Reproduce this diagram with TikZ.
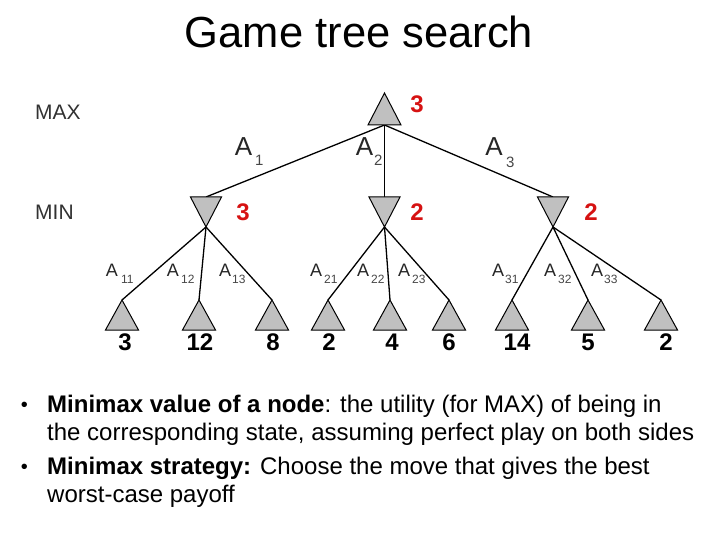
\documentclass[tikz,border=0pt]{standalone}
\usepackage{fontspec}
\setmainfont{Liberation Sans}
\definecolor{valred}{RGB}{214,18,18}
\definecolor{trigray}{RGB}{192,192,192}
\definecolor{labgray}{RGB}{70,70,70}
\definecolor{lvlgray}{RGB}{50,50,50}
\begin{document}
\begin{tikzpicture}[x=1pt,y=-1pt,
  edge/.style={draw=black,line width=1.3pt},
  tri/.style={draw=black,fill=trigray,line width=1pt,line join=miter},
  val/.style={font=\fontsize{24}{24}\selectfont\bfseries,text=valred,inner sep=0,anchor=base},
  leafval/.style={font=\fontsize{24}{24}\selectfont\bfseries,text=black,inner sep=0,anchor=base},
  biglab/.style={font=\fontsize{26}{26}\selectfont,text=black!85,inner sep=0,anchor=base},
  bigsub/.style={font=\fontsize{15}{15}\selectfont,text=labgray,inner sep=0,anchor=base west},
  smalllab/.style={font=\fontsize{18}{18}\selectfont,text=black!85,inner sep=0,anchor=base},
  smallsub/.style={font=\fontsize{12}{12}\selectfont,text=labgray,inner sep=0,anchor=base west},
  lvl/.style={font=\fontsize{21}{21}\selectfont,text=lvlgray,inner sep=0,anchor=base west},
  body/.style={font=\fontsize{24}{28}\selectfont,inner sep=0,anchor=base west},
  bul/.style={font=\fontsize{20}{20}\selectfont,inner sep=0,anchor=base},
]
\useasboundingbox (0,0) rectangle (720,540);

% title
\node[font=\fontsize{43.5}{43.5}\selectfont,inner sep=0,anchor=base] (title) at (359,48) {Game tree search};

% level labels
\node[lvl] (maxlab) at (35,120) {MAX};
\node[lvl] (minlab) at (35,220) {MIN};

% tree coordinates
\coordinate (rA) at (384.5,93);
\coordinate (rB) at (384.5,125);
\coordinate (m1B) at (206,197); \coordinate (m1A) at (206,227);
\coordinate (m2B) at (384.5,197); \coordinate (m2A) at (384.5,227);
\coordinate (m3B) at (553,197); \coordinate (m3A) at (553,227);
\coordinate (l1) at (122,300);
\coordinate (l2) at (199,300);
\coordinate (l3) at (272,300);
\coordinate (l4) at (328,300);
\coordinate (l5) at (390,300);
\coordinate (l6) at (449,300);
\coordinate (l7) at (512,300);
\coordinate (l8) at (588,300);
\coordinate (l9) at (661,300);

% edges
\draw[edge] (rB) -- (m1B);
\draw[edge] (rB) -- (m2B);
\draw[edge] (rB) -- (m3B);
\draw[edge] (m1A) -- (l1);
\draw[edge] (m1A) -- (l2);
\draw[edge] (m1A) -- (l3);
\draw[edge] (m2A) -- (l4);
\draw[edge] (m2A) -- (l5);
\draw[edge] (m2A) -- (l6);
\draw[edge] (m3A) -- (l7);
\draw[edge] (m3A) -- (l8);
\draw[edge] (m3A) -- (l9);

% triangles
\draw[tri] (rA) -- ++(16.5,32) -- ++(-33,0) -- cycle;
\foreach \m in {m1A,m2A,m3A}
  \draw[tri] (\m) -- ++(15.5,-30) -- ++(-31,0) -- cycle;
\foreach \l in {l1,l2,l3,l4,l5,l6,l7,l8,l9}
  \draw[tri] (\l) -- ++(16.5,30) -- ++(-33,0) -- cycle;

% minimax values
\node[val] (vr) at (417,113) {3};
\node[val] (v1) at (243,221) {3};
\node[val] (v2) at (417,221) {2};
\node[val] (v3) at (591,221) {2};

% leaf values
\node[leafval] (n1) at (125,350) {3};
\node[leafval] (n2) at (200,350) {12};
\node[leafval] (n3) at (273,350) {8};
\node[leafval] (n4) at (329,350) {2};
\node[leafval] (n5) at (392,350) {4};
\node[leafval] (n6) at (449,350) {6};
\node[leafval] (n7) at (517,350) {14};
\node[leafval] (n8) at (588,350) {5};
\node[leafval] (n9) at (666,350) {2};

% top action labels
\node[biglab] (a1) at (243.5,156) {A};
\node[bigsub] (s1) at (255,166) {1};
\node[biglab] (a2) at (364.5,156) {A};
\node[bigsub] (s2) at (374,166) {2};
\node[biglab] (a3) at (494,156) {A};
\node[bigsub] (s3) at (506,168) {3};

% leaf action labels
\node[smalllab] (a11) at (112,276) {A};
\node[smallsub] (s11) at (121,283) {11};
\node[smalllab] (a12) at (173,276) {A};
\node[smallsub] (s12) at (181,283) {12};
\node[smalllab] (a13) at (225,276) {A};
\node[smallsub] (s13) at (232,283) {13};
\node[smalllab] (a21) at (316,276) {A};
\node[smallsub] (s21) at (324,283) {21};
\node[smalllab] (a22) at (363,276) {A};
\node[smallsub] (s22) at (371,283) {22};
\node[smalllab] (a23) at (404,276) {A};
\node[smallsub] (s23) at (412,283) {23};
\node[smalllab] (a31) at (498,276) {A};
\node[smallsub] (s31) at (505,283) {31};
\node[smalllab] (a32) at (550,276) {A};
\node[smallsub] (s32) at (558,283) {32};
\node[smalllab] (a33) at (597,276) {A};
\node[smallsub] (s33) at (604,283) {33};

% bullet text
\node[bul] (b1) at (24.5,411) {•};
\node[body] (t1) at (47,412) {\textbf{Minimax value of a node}: the utility (for MAX) of being in};
\node[body] (t2) at (47,440) {the corresponding state, assuming perfect play on both sides};
\node[bul] (b2) at (24.5,473) {•};
\node[body] (t3) at (47,474) {\textbf{Minimax strategy:} Choose the move that gives the best};
\node[body] (t4) at (47,502) {worst-case payoff};
\end{tikzpicture}
\end{document}
